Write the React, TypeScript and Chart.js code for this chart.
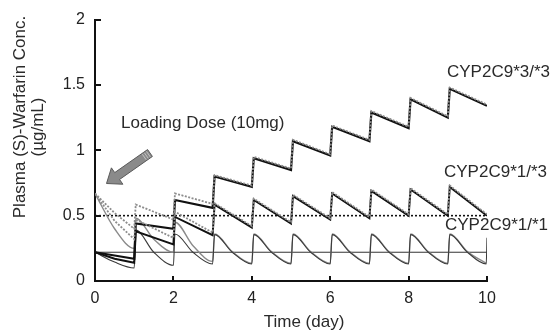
import { useEffect, useRef } from 'react';
import { Chart, registerables } from 'chart.js';

Chart.register(...registerables);

// ---- axis ticks ----
const xTickValues = [0, 2, 4, 6, 8, 10];
const xTickLabels = ['0', '2', '4', '6', '8', '10'];
const yTickValues = [0, 0.5, 1, 1.5, 2];
const yTickLabels = ['0', '0.5', '1', '1.5', '2'];

// ---- labels ----
const xTitle = 'Time (day)';
const yTitleLines = ['Plasma (S)-Warfarin Conc.', '(µg/mL)'];
const loadingLabel = 'Loading Dose (10mg)';
const genotypeLabels = ['CYP2C9*3/*3', 'CYP2C9*1/*3', 'CYP2C9*1/*1'];

// ---- reference levels (µg/mL) ----
const upperLevel = 0.5;
const lowerLevel = 0.22;

// ---- series: [day, conc] ----
const cyp33Maintenance: [number, number][] = [
  [0, 0.22], [1, 0.17], [1.04, 0.44], [2, 0.4], [2.04, 0.62], [3, 0.56], [3.05, 0.8], [4, 0.72],
  [4.05, 0.94], [5, 0.85], [5.05, 1.07], [6, 0.96], [6.05, 1.18], [7, 1.07], [7.05, 1.29], [8, 1.17],
  [8.05, 1.39], [9, 1.25], [9.05, 1.47], [10, 1.34],
];
const cyp33Loading: [number, number][] = [
  [0, 0.67], [0.5, 0.52], [1, 0.4], [1.04, 0.585], [2, 0.47], [2.04, 0.67], [3, 0.59], [3.05, 0.81],
  [4, 0.73], [4.05, 0.95], [5, 0.86], [5.05, 1.08], [6, 0.97], [6.05, 1.19], [7, 1.08], [7.05, 1.3],
  [8, 1.18], [8.05, 1.4], [9, 1.26], [9.05, 1.48], [10, 1.35],
];
const cyp13Maintenance: [number, number][] = [
  [0, 0.22], [0.5, 0.17], [1, 0.14], [1.04, 0.38], [2, 0.28], [2.04, 0.49], [3, 0.35], [3.05, 0.585],
  [4, 0.41], [4.05, 0.62], [5, 0.44], [5.05, 0.65], [6, 0.47], [6.05, 0.67], [7, 0.48], [7.05, 0.69],
  [8, 0.5], [8.05, 0.7], [9, 0.5], [9.05, 0.72], [10, 0.5],
];
const cyp13Loading: [number, number][] = [
  [0, 0.67], [0.5, 0.46], [1, 0.32], [1.04, 0.47], [2, 0.33], [2.04, 0.53], [3, 0.37], [3.05, 0.595],
  [4, 0.42], [4.05, 0.63], [5, 0.45], [5.05, 0.66], [6, 0.48], [6.05, 0.68], [7, 0.49], [7.05, 0.7],
  [8, 0.51], [8.05, 0.71], [9, 0.51], [9.05, 0.73], [10, 0.51],
];
const cyp11Maintenance: [number, number][] = [
  [0, 0.22], [0.5, 0.145], [1, 0.1], [1.04, 0.39], [1.5, 0.22], [2, 0.12], [2.04, 0.36], [2.5, 0.22],
  [3, 0.13], [3.05, 0.355], [3.5, 0.22], [4, 0.13], [4.05, 0.355], [4.5, 0.22], [5, 0.13], [5.05, 0.355],
  [5.5, 0.22], [6, 0.13], [6.05, 0.355], [6.5, 0.22], [7, 0.13], [7.05, 0.355], [7.5, 0.22], [8, 0.13],
  [8.05, 0.355], [8.5, 0.22], [9, 0.13], [9.05, 0.355], [9.5, 0.22], [9.98, 0.13], [10, 0.33],
];
const cyp11Loading: [number, number][] = [
  [0, 0.67], [0.5, 0.4], [1, 0.25], [1.04, 0.48], [1.5, 0.32], [2, 0.22], [2.04, 0.45], [2.5, 0.27],
  [3, 0.15], [3.05, 0.36], [3.5, 0.225], [4, 0.135], [4.05, 0.36], [4.5, 0.225], [5, 0.135], [5.05, 0.36],
  [5.5, 0.225], [6, 0.135], [6.05, 0.36], [6.5, 0.225], [7, 0.135], [7.05, 0.36], [7.5, 0.225], [8, 0.135],
  [8.05, 0.36], [8.5, 0.225], [9, 0.135], [9.05, 0.36], [9.5, 0.225], [9.98, 0.135],
];

const toXY = (arr: [number, number][]) => arr.map(([x, y]) => ({ x, y }));
const FONT = '"Liberation Sans", Arial, Helvetica, sans-serif';

const overlayPlugin = {
  id: 'overlay',
  afterDraw(chart: any) {
    const { ctx, scales } = chart;
    const xs = scales.x;
    const ys = scales.y;
    const x0 = xs.getPixelForValue(0);
    const y0 = ys.getPixelForValue(0);
    ctx.save();
    // inward tick marks
    ctx.strokeStyle = '#111';
    ctx.lineWidth = 2;
    ctx.beginPath();
    xTickValues.forEach((v) => {
      if (v === 0) return;
      const px = Math.round(xs.getPixelForValue(v));
      ctx.moveTo(px, y0);
      ctx.lineTo(px, y0 - 5);
    });
    yTickValues.forEach((v) => {
      if (v === 0) return;
      const py = Math.round(ys.getPixelForValue(v));
      ctx.moveTo(x0, py);
      ctx.lineTo(x0 + 6, py);
    });
    ctx.stroke();

    // arrow
    const tip = { x: 106.5, y: 183.5 };
    const tail = { x: 150, y: 153 };
    const dx = tip.x - tail.x;
    const dy = tip.y - tail.y;
    const len = Math.hypot(dx, dy);
    const d = { x: dx / len, y: dy / len };
    const n = { x: -d.y, y: d.x };
    const headLen = 13;
    const headHalf = 10;
    const shaftHalf = 4.2;
    const base = { x: tip.x - d.x * headLen, y: tip.y - d.y * headLen };
    const pts = [
      [tail.x + n.x * shaftHalf, tail.y + n.y * shaftHalf],
      [base.x + n.x * shaftHalf, base.y + n.y * shaftHalf],
      [base.x + n.x * headHalf, base.y + n.y * headHalf],
      [tip.x, tip.y],
      [base.x - n.x * headHalf, base.y - n.y * headHalf],
      [base.x - n.x * shaftHalf, base.y - n.y * shaftHalf],
      [tail.x - n.x * shaftHalf, tail.y - n.y * shaftHalf],
    ];
    ctx.beginPath();
    pts.forEach(([px, py], i) => (i ? ctx.lineTo(px, py) : ctx.moveTo(px, py)));
    ctx.closePath();
    ctx.fillStyle = '#8a8a8a';
    ctx.fill();
    ctx.strokeStyle = '#5a5a5a';
    ctx.lineWidth = 1;
    ctx.stroke();
    ctx.strokeStyle = '#d0d0d0';
    ctx.lineWidth = 0.8;
    ctx.beginPath();
    [2, 4.5, 7].forEach((off) => {
      const cx = tail.x + d.x * off;
      const cy = tail.y + d.y * off;
      ctx.moveTo(cx + n.x * (shaftHalf - 0.8), cy + n.y * (shaftHalf - 0.8));
      ctx.lineTo(cx - n.x * (shaftHalf - 0.8), cy - n.y * (shaftHalf - 0.8));
    });
    ctx.stroke();

    // texts
    ctx.fillStyle = '#2a2a2a';
    ctx.font = `17px ${FONT}`;
    ctx.textBaseline = 'alphabetic';
    ctx.textAlign = 'left';
    ctx.fillText(loadingLabel, 121, 128);
    ctx.fillText(genotypeLabels[0], 447, 77);
    ctx.fillText(genotypeLabels[1], 444, 177);
    ctx.fillText(genotypeLabels[2], 445, 230);
    ctx.textAlign = 'center';
    ctx.fillText(xTitle, 304, 327);
    ctx.save();
    ctx.translate(25, 117);
    ctx.rotate(-Math.PI / 2);
    ctx.fillText(yTitleLines[0], 0, 0);
    ctx.restore();
    ctx.save();
    ctx.translate(43, 127);
    ctx.rotate(-Math.PI / 2);
    ctx.fillText(yTitleLines[1], 0, 0);
    ctx.restore();
    ctx.restore();
  },
};

export default function App() {
  const ref = useRef<HTMLCanvasElement>(null);
  useEffect(() => {
    const lineBase = { pointRadius: 0, fill: false, tension: 0 };
    const chart = new Chart(ref.current as HTMLCanvasElement, {
      type: 'line',
      data: {
        datasets: [
          { ...lineBase, data: [{ x: 0, y: upperLevel }, { x: 10, y: upperLevel }], borderColor: '#111', borderWidth: 1.6, borderDash: [2, 2], order: 9 },
          { ...lineBase, data: [{ x: 0, y: lowerLevel }, { x: 10, y: lowerLevel }], borderColor: '#333', borderWidth: 1, order: 9 },
          { ...lineBase, data: toXY(cyp11Loading), borderColor: '#8a8a8a', borderWidth: 1.4, cubicInterpolationMode: 'monotone', order: 8 },
          { ...lineBase, data: toXY(cyp11Maintenance), borderColor: '#3a3a3a', borderWidth: 1.1, cubicInterpolationMode: 'monotone', order: 7 },
          { ...lineBase, data: toXY(cyp13Maintenance), borderColor: '#111', borderWidth: 2, order: 6 },
          { ...lineBase, data: toXY(cyp33Maintenance), borderColor: '#111', borderWidth: 2.2, order: 5 },
          { ...lineBase, data: toXY(cyp13Loading), borderColor: '#8c8c8c', borderWidth: 1.8, borderDash: [2, 1.5], order: 4 },
          { ...lineBase, data: toXY(cyp33Loading), borderColor: '#8c8c8c', borderWidth: 1.8, borderDash: [2, 1.5], order: 3 },
        ],
      },
      options: {
        responsive: false,
        animation: false,
        events: [],
        layout: { padding: { top: 11, right: 71, left: 0, bottom: 0 } },
        plugins: { legend: { display: false }, tooltip: { enabled: false } },
        scales: {
          x: {
            type: 'linear',
            min: 0,
            max: 10,
            afterFit: (s: any) => { s.height = 54; },
            afterBuildTicks: (s: any) => { s.ticks = xTickValues.map((v) => ({ value: v })); },
            grid: { display: false, drawTicks: false },
            border: { display: true, color: '#111', width: 2 },
            ticks: {
              padding: 8,
              color: '#222',
              font: { family: FONT, size: 16 },
              maxRotation: 0,
              callback: (v: any) => xTickLabels[xTickValues.indexOf(Number(v))] ?? '',
            },
          },
          y: {
            type: 'linear',
            min: 0,
            max: 2,
            afterFit: (s: any) => { s.width = 95; },
            afterBuildTicks: (s: any) => { s.ticks = yTickValues.map((v) => ({ value: v })); },
            grid: { display: false, drawTicks: false },
            border: { display: true, color: '#111', width: 2 },
            ticks: {
              padding: 10,
              color: '#222',
              font: { family: FONT, size: 16 },
              callback: (v: any) => yTickLabels[yTickValues.indexOf(Number(v))] ?? '',
            },
          },
        },
      },
      plugins: [overlayPlugin],
    } as any);
    return () => chart.destroy();
  }, []);
  return (
    <div style={{ position: 'fixed', left: 0, top: 0, width: 558, height: 335, background: '#fff' }}>
      <canvas ref={ref} width={558} height={335} style={{ display: 'block', width: 558, height: 335 }} />
    </div>
  );
}
